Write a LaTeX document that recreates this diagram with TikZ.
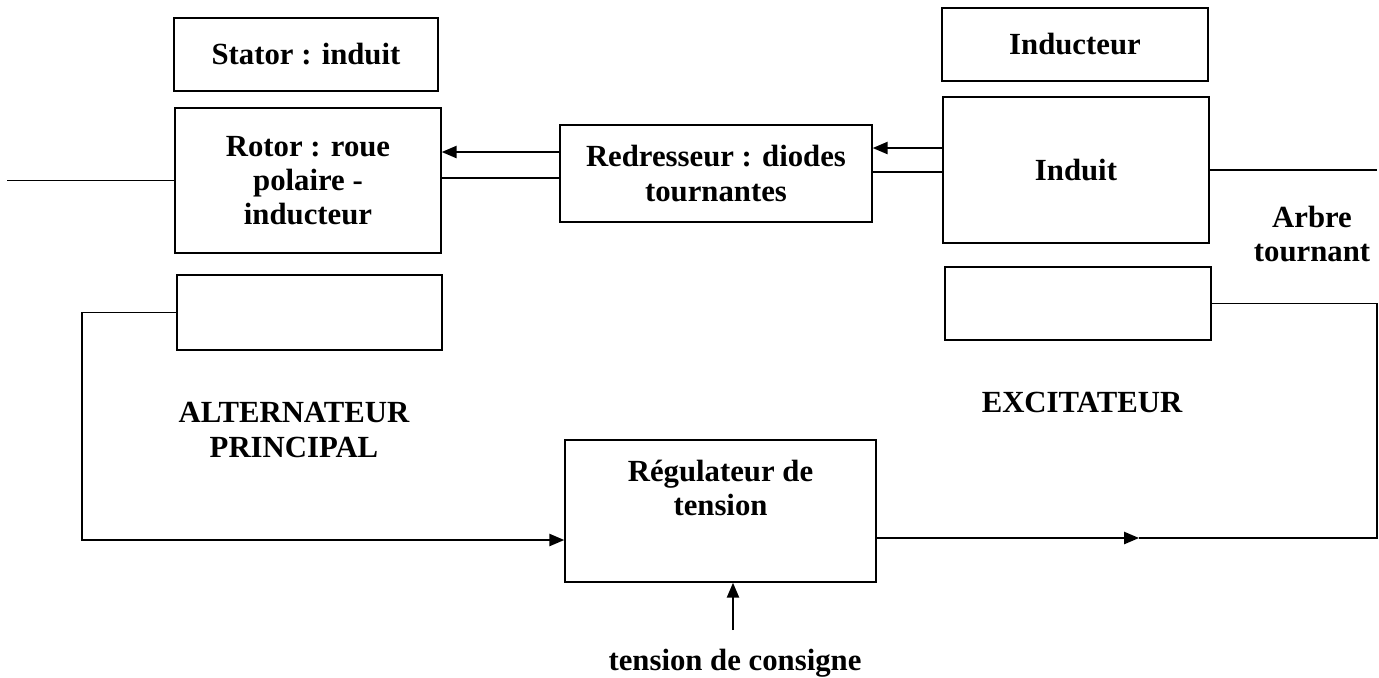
\documentclass[tikz,border=0pt]{standalone}
\usepackage{fontspec}
\setmainfont{Liberation Serif}
\usetikzlibrary{arrows.meta}
\begin{document}
\begin{tikzpicture}[x=0.02cm, y=-0.02cm, line width=0.9pt]
      \tikzset{boite/.style={draw=black, rectangle, inner sep=0pt, align=center,
          font=\fontsize{17.5}{19.5}\selectfont\bfseries},
        texte/.style={align=center, font=\fontsize{17.5}{19.5}\selectfont\bfseries},
        fleche/.style={-{Triangle[length=8.5pt,width=7pt]}}}
      \path[use as bounding box] (0,0) rectangle (1379,677);

      % alternateur principal
      \node[boite, minimum width=5.28cm, minimum height=1.46cm] (stator) at (306,54.5) {Stator : induit};
      \node[boite, minimum width=5.32cm, minimum height=2.9cm] (rotor) at (308,180.5) {Rotor : roue\\polaire -\\inducteur};
      \node[boite, minimum width=5.3cm, minimum height=1.5cm] (altbas) at (309.5,312.5) {};
      \node[texte] (alt) at (294,430) {ALTERNATEUR\\PRINCIPAL};

      \node[boite, minimum width=6.24cm, minimum height=1.94cm] (redr) at (716,173.5) {Redresseur : diodes\\tournantes};

      % excitateur
      \node[boite, minimum width=5.32cm, minimum height=1.46cm] (inducteur) at (1075,44.5) {Inducteur};
      \node[boite, minimum width=5.32cm, minimum height=2.92cm] (induit) at (1076,170) {Induit};
      \node[boite, minimum width=5.32cm, minimum height=1.46cm] (excbas) at (1078,303.5) {};
      \node[texte] (exc) at (1082,402) {EXCITATEUR};
      \node[texte] (arbre) at (1312,234) {Arbre\\tournant};

      \node[boite, minimum width=6.22cm, minimum height=2.84cm] (regul) at (720.5,511) {};
      \node[texte] (regultxt) at (720.5,488) {Régulateur de\\tension};
      \node[texte] (consigne) at (735,663) {tension de consigne};

      \coordinate (haut1) at (0,152);
      \coordinate (bas1) at (0,178);
      \coordinate (haut2) at (0,148);
      \coordinate (bas2) at (0,172);
      \coordinate (gauche) at (82,540);
      \coordinate (droite) at (1377,538);
      \coordinate (milieu) at (1139,538);
      \coordinate (cons) at (733,630);
      \coordinate (arbreg) at (7,180.5);
      \coordinate (arbred) at (1377,170);

      % arbre tournant
      \draw (arbreg) -- (rotor.west);
      \draw (induit.east) -- (arbred);

      % liaisons
      \draw[fleche] (redr.west |- haut1) -- (rotor.east |- haut1);
      \draw (rotor.east |- bas1) -- (redr.west |- bas1);
      \draw[fleche] (induit.west |- haut2) -- (redr.east |- haut2);
      \draw (redr.east |- bas2) -- (induit.west |- bas2);

      % boucle de regulation
      \draw[fleche] (altbas.west) -| (gauche) -- (gauche -| regul.west);
      \draw[fleche] (regul.east |- droite) -- (milieu);
      \draw (milieu) -- (droite) |- (excbas.east);
      \draw[fleche] (cons) -- (cons |- regul.south);
    \end{tikzpicture}
\end{document}
